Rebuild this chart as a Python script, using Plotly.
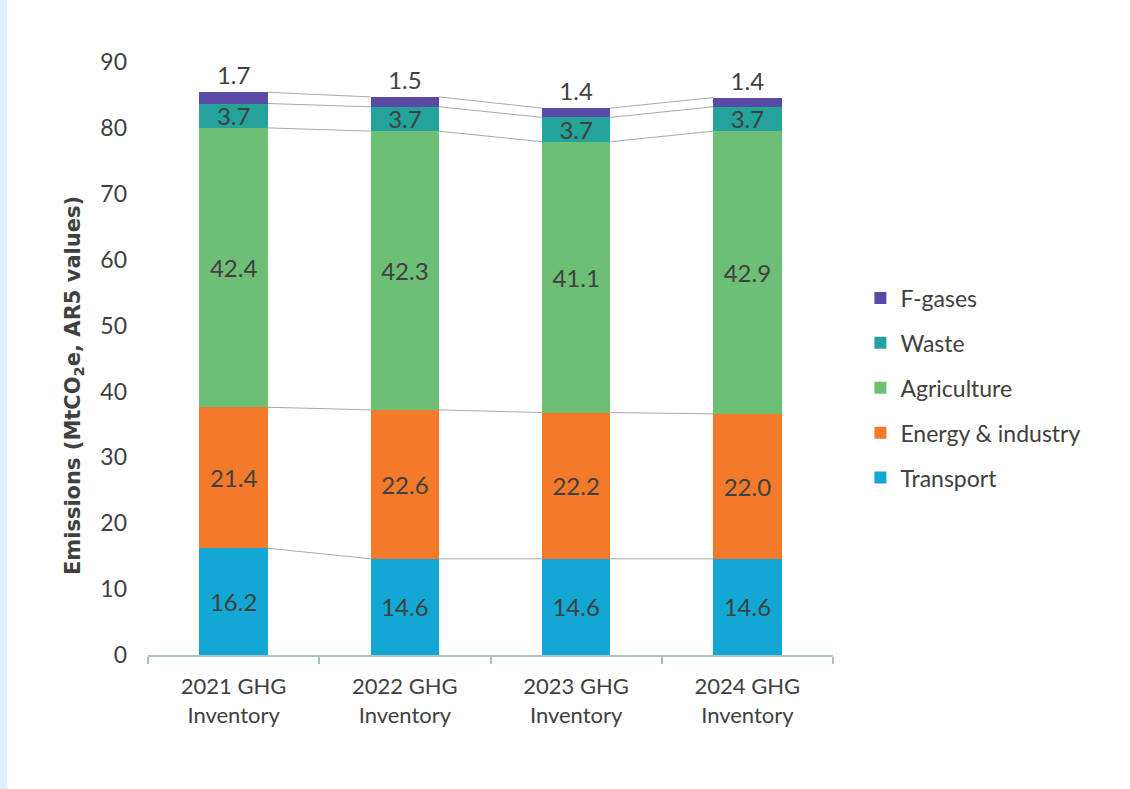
import plotly.graph_objects as go

categories = ["2021 GHG<br>Inventory", "2022 GHG<br>Inventory", "2023 GHG<br>Inventory", "2024 GHG<br>Inventory"]
transport = [16.2, 14.6, 14.6, 14.6]
energy = [21.4, 22.6, 22.2, 22.0]
agriculture = [42.4, 42.3, 41.1, 42.9]
waste = [3.7, 3.7, 3.7, 3.7]
fgases = [1.7, 1.5, 1.4, 1.4]
y_ticks = [0, 10, 20, 30, 40, 50, 60, 70, 80, 90]
y_title = "<b>Emissions (MtCO<sub>2</sub>e, AR5 values)</b>"

series = [
    ("Transport", transport, "#12a8d3"),
    ("Energy & industry", energy, "#f37a2a"),
    ("Agriculture", agriculture, "#6cbf74"),
    ("Waste", waste, "#23a399"),
    ("F-gases", fgases, "#5a4aa5"),
]

FONT = "Lato, sans-serif"
TXT = "#404040"
BAR_W = 0.4

fig = go.Figure()
n = len(series)
for i, (name, vals, col) in enumerate(series):
    top = i == n - 1
    fig.add_trace(go.Bar(
        name=name, x=categories, y=vals, marker=dict(color=col, line=dict(width=0)),
        width=BAR_W, text=[f"{v:.1f}" for v in vals],
        textposition="outside" if top else "inside",
        insidetextanchor="middle", cliponaxis=False,
        textfont=dict(family=FONT, size=24, color=TXT),
        legendgroup=name, legendrank=n - i, hoverinfo="skip",
    ))

# series lines connecting segment tops between adjacent bars
cum = [0.0] * len(categories)
for name, vals, col in series:
    cum = [c + v for c, v in zip(cum, vals)]
    for j in range(len(categories) - 1):
        fig.add_trace(go.Scatter(
            x=[j + BAR_W / 2, j + 1 - BAR_W / 2], y=[cum[j], cum[j + 1]],
            xaxis="x2", mode="lines", line=dict(color="#a3a9a9", width=1),
            showlegend=False, hoverinfo="skip",
        ))

W, H = 1130, 789
L, R, T, B = 148, 297, 62, 134
pw, ph = W - L - R, H - T - B

fig.add_shape(type="rect", xref="paper", yref="paper",
              x0=-L / pw, x1=(7 - L) / pw, y0=-B / ph, y1=1 + T / ph,
              fillcolor="#e2eef8", line=dict(width=0), layer="below")

fig.add_annotation(text=y_title, xref="paper", yref="paper",
                   x=(74 - L) / pw, y=(655 - 386) / ph, textangle=-90,
                   showarrow=False, xanchor="center", yanchor="middle",
                   font=dict(family="DejaVu Sans, sans-serif", size=21, color=TXT))

fig.update_layout(
    width=W, height=H, margin=dict(l=L, r=R, t=T, b=B),
    barmode="stack", plot_bgcolor="white", paper_bgcolor="white",
    font=dict(family=FONT, color=TXT),
    uniformtext=dict(mode="show", minsize=24),
    showlegend=True,
    legend=dict(x=1.04, y=(655 - 388) / ph, xanchor="left", yanchor="middle",
                traceorder="grouped", tracegroupgap=12,
                font=dict(family=FONT, size=23, color=TXT),
                itemwidth=30),
    xaxis=dict(type="category", range=[-0.5, 3.5], showline=True,
               linecolor="#a9c3c3", linewidth=2, ticks="outside",
               tickson="boundaries", ticklen=7, tickcolor="#a9c3c3",
               tickwidth=1.5, showgrid=False, ticklabelstandoff=11,
               tickfont=dict(family=FONT, size=22, color=TXT)),
    xaxis2=dict(overlaying="x", range=[-0.5, 3.5], visible=False),
    yaxis=dict(range=[0, 90], tickvals=y_ticks, showgrid=False, zeroline=False,
               showline=False, ticklabelstandoff=20,
               tickfont=dict(family=FONT, size=23, color=TXT)),
)

fig.write_html("out.html")
